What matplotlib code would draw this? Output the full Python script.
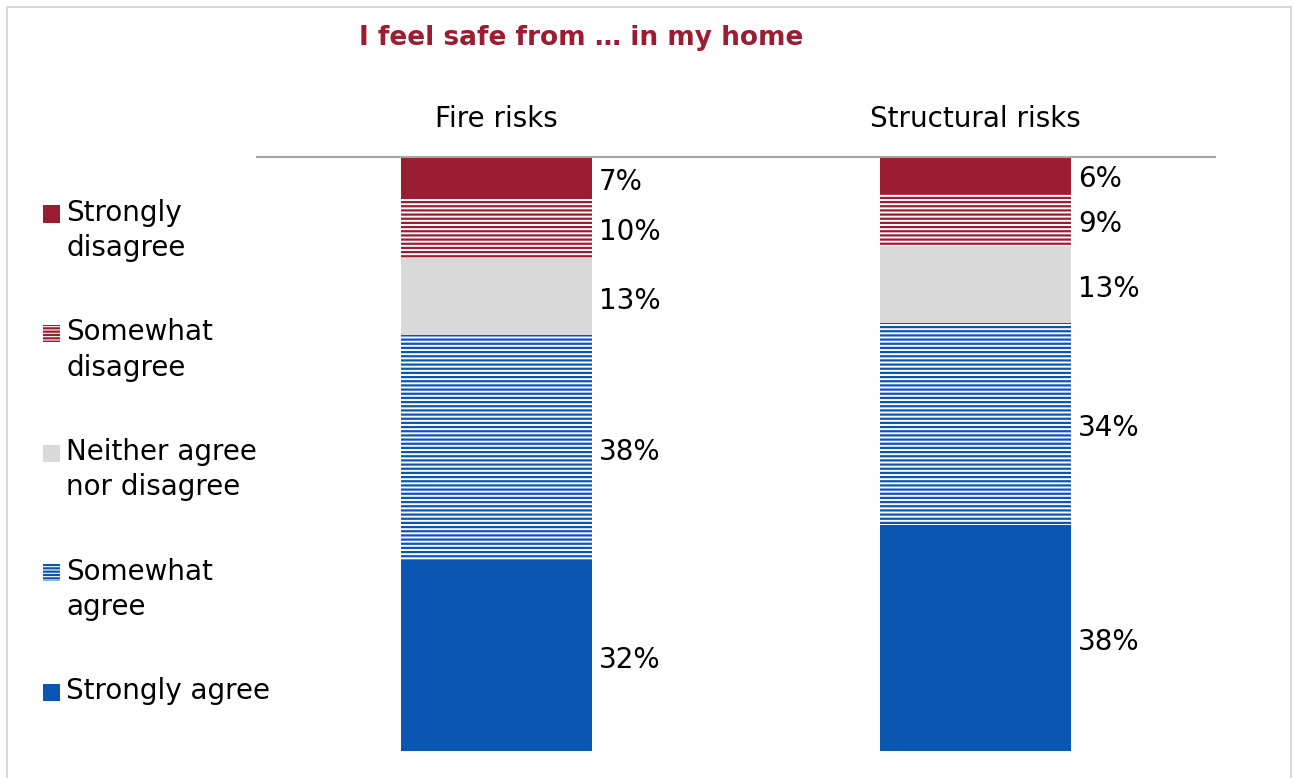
import matplotlib
matplotlib.use("Agg")
import matplotlib.pyplot as plt
from matplotlib.patches import Rectangle

plt.rcParams['font.family'] = ['DejaVu Sans']
plt.rcParams['hatch.linewidth'] = 1.6

# Survey data
categories = ["Fire risks", "Structural risks"]
responses = ["Strongly\ndisagree", "Somewhat\ndisagree", "Neither agree\nnor disagree",
             "Somewhat\nagree", "Strongly agree"]
strongly_disagree = [7, 6]
somewhat_disagree = [10, 9]
neither = [13, 13]
somewhat_agree = [38, 34]
strongly_agree = [32, 38]
series = [strongly_disagree, somewhat_disagree, neither, somewhat_agree, strongly_agree]

RED = "#9A1D31"
BLUE = "#0B55B3"
GREY = "#D9D9D9"
colors = [RED, RED, GREY, BLUE, BLUE]
hatched = [False, True, False, True, False]
FS = 20

W, H = 1294, 778
fig = plt.figure(figsize=(W / 100, H / 100), dpi=100)
ax = fig.add_axes([257 / W, 1 - 751 / H, (1215 - 257) / W, (751 - 157) / H])

x = list(range(len(categories)))
bottom = [0] * len(categories)
for vals, col, hat in zip(series, colors, hatched):
    if hat:
        ax.bar(x, vals, bottom=bottom, width=0.4, facecolor="white",
               edgecolor=col, hatch="----", linewidth=0)
    else:
        ax.bar(x, vals, bottom=bottom, width=0.4, color=col, linewidth=0)
    for xi, b, v in zip(x, bottom, vals):
        ax.annotate(f"{v}%", xy=(xi + 0.2, b + v / 2), xytext=(5, -3),
                    textcoords="offset points", ha="left", va="center",
                    fontsize=FS, color="black")
    bottom = [b + v for b, v in zip(bottom, vals)]

ax.set_xlim(-0.5, len(categories) - 0.5)
ax.set_ylim(100, 0)
ax.set_yticks([])
ax.xaxis.tick_top()
ax.set_xticks(x)
ax.set_xticklabels(categories, fontsize=FS)
ax.tick_params(axis="x", length=0, pad=17.5)
for s in ["left", "right", "bottom"]:
    ax.spines[s].set_visible(False)
ax.spines["top"].set_color("#A6A6A6")
ax.spines["top"].set_linewidth(1.5)

# Title
fig.text(581 / W, 1 - 38 / H, "I feel safe from … in my home", ha="center", va="center",
         fontsize=19, fontweight="bold", color=RED)

# Legend drawn down the left side
for i, (lab, col, hat) in enumerate(zip(responses, colors, hatched)):
    yc = 214 + i * 119.5
    sq = 17
    if hat:
        patch = Rectangle((43 / W, 1 - (yc + sq / 2) / H), sq / W, sq / H,
                          transform=fig.transFigure, facecolor="white", edgecolor=col,
                          hatch="-----", linewidth=0)
    else:
        patch = Rectangle((43 / W, 1 - (yc + sq / 2) / H), sq / W, sq / H,
                          transform=fig.transFigure, facecolor=col, linewidth=0)
    fig.patches.append(patch)
    fig.text(66 / W, 1 - (yc - 15) / H, lab, ha="left", va="top", fontsize=FS,
             linespacing=1.32, color="black")

# Outer frame
fig.patches.append(Rectangle((7 / W, -0.05), (1291 - 7) / W, 1.05 - 7 / H,
                             transform=fig.transFigure, fill=False,
                             edgecolor="#D9D9D9", linewidth=1.5))

fig.savefig("out.png", dpi=100)
